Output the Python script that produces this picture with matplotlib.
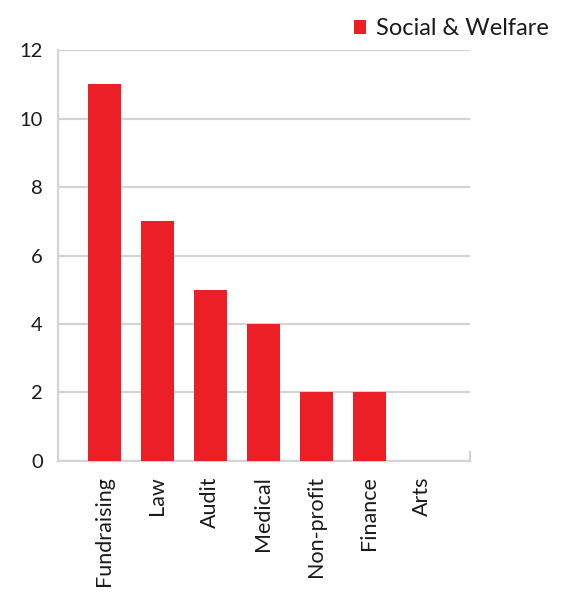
import matplotlib
matplotlib.use('Agg')
import matplotlib.pyplot as plt

categories = ['Fundraising', 'Law', 'Audit', 'Medical', 'Non-profit', 'Finance', 'Arts']
values = [11, 7, 5, 4, 2, 2, 0]
series_name = 'Social & Welfare'
yticks = [0, 2, 4, 6, 8, 10, 12]

plt.rcParams['font.family'] = ['Lato', 'DejaVu Sans']

red = '#ED1F26'
grey = '#D4D4D4'

fig = plt.figure(figsize=(5.86, 5.92), dpi=100)
ax = fig.add_axes([0.099, 0.2213, 0.703, 0.6942])

x = list(range(len(categories)))
ax.bar(x, values, width=0.62, color=red, zorder=3, label=series_name)

ax.set_xlim(-0.87, 6.9)
ax.set_ylim(0, 12)
ax.set_yticks(yticks)
ax.set_yticklabels([str(v) for v in yticks], fontsize=14.5, color='#1a1a1a')
ax.set_xticks(x)
ax.set_xticklabels(categories, rotation=90, fontsize=15.5, color='#1a1a1a', va='top')
ax.tick_params(axis='y', length=0, pad=11)
ax.tick_params(axis='x', length=0, pad=11)

ax.grid(axis='y', color=grey, linewidth=1.6, zorder=0)
for side in ['top', 'right']:
    ax.spines[side].set_visible(False)
for side in ['left', 'bottom']:
    ax.spines[side].set_color(grey)
    ax.spines[side].set_linewidth(1.6)
# small end mark at right of the x axis
ax.plot([6.9, 6.9], [0, 0.26], color=grey, linewidth=1.6, clip_on=False, zorder=2)

leg = ax.legend(loc='upper left', bbox_to_anchor=(0.695, 1.10), frameon=False,
                fontsize=17, handlelength=0.5, handleheight=0.5, handletextpad=0.45,
                borderaxespad=0)
for t in leg.get_texts():
    t.set_color('#1a1a1a')

fig.savefig('out.png', dpi=100)
